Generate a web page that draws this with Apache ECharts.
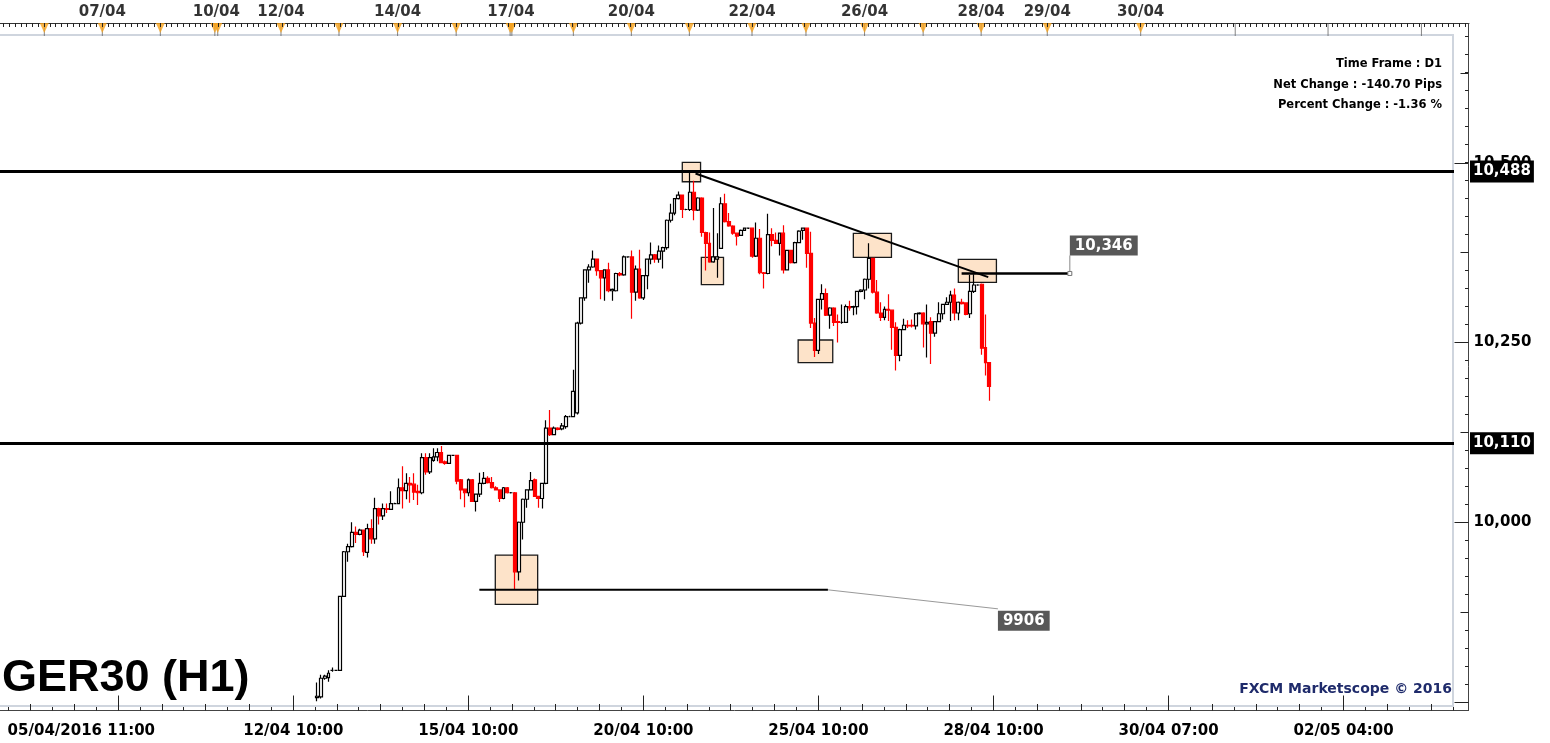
<!DOCTYPE html>
<html><head><meta charset="utf-8">
<script src="https://cdn.jsdelivr.net/npm/echarts@6/dist/echarts.min.js"></script>
<style>html,body{margin:0;padding:0;background:#fff}#c{width:1550px;height:743px}</style>
</head><body><div id="c"></div>
<script>
// ---------- data ----------
const slotCount = 374;      // hourly slots on the time axis
const firstSlot = 81;       // slot of the first drawn candle
// [open, close, low, high]
const candles = [
[9756,9758,9751,9777],[9757,9783,9755,9788],[9783,9786,9781,9788],[9784,9790,9778,9794],[9794,9794,9792,9798],
[9794,9794,9793,9795],[9794,9897,9793,9897],[9897,9959,9896,9960],[9959,9966,9945,9970],[9966,9986,9965,10000],
[9986,9983,9971,9994],[9983,9989,9982,9991],[9989,9959,9953,9990],[9958,9991,9951,9998],[9991,9977,9970,10004],
[9977,10019,9970,10034],[10019,10009,9997,10020],[10009,10019,10003,10026],[10019,10018,10013,10026],[10018,10026,10017,10043],
[10026,10026,10025,10027],[10026,10048,10025,10061],[10048,10044,10019,10078],[10044,10054,10032,10068],[10054,10052,10027,10063],
[10053,10042,10031,10068],[10043,10041,10024,10052],[10041,10090,10039,10096],[10090,10070,10066,10096],[10070,10090,10067,10096],
[10086,10091,10084,10103],[10091,10097,10085,10103],[10097,10083,10082,10106],[10084,10082,10080,10086],[10082,10093,10081,10094],
[10093,10093,10092,10094],[10093,10057,10053,10094],[10059,10045,10032,10060],[10046,10041,10021,10047],[10041,10059,10036,10061],
[10059,10029,10028,10060],[10029,10039,10015,10040],[10039,10054,10035,10069],[10054,10061,10053,10070],[10061,10055,10054,10064],
[10055,10048,10047,10063],[10048,10045,10044,10050],[10045,10033,10028,10046],[10033,10048,10032,10049],[10048,10041,10040,10049],
[10041,10041,10040,10042],[10041,9931,9907,10042],[9931,10000,9919,10001],[10000,10032,9976,10033],[10032,10045,10020,10046],
[10045,10058,10044,10070],[10059,10036,10035,10061],[10036,10033,10020,10037],[10033,10054,10019,10055],[10054,10131,10053,10142],
[10131,10122,10120,10156],[10122,10131,10121,10133],[10131,10129,10128,10132],[10130,10134,10128,10138],[10133,10147,10130,10149],
[10147,10147,10146,10148],[10147,10182,10146,10212],[10152,10277,10150,10279],[10277,10312,10275,10313],[10312,10351,10308,10352],
[10351,10355,10333,10359],[10355,10366,10354,10378],[10366,10350,10343,10367],[10350,10340,10310,10351],[10340,10351,10308,10352],
[10351,10322,10320,10361],[10322,10324,10308,10325],[10322,10346,10321,10347],[10346,10344,10342,10348],[10344,10369,10343,10371],
[10369,10369,10368,10370],[10369,10320,10283,10378],[10320,10352,10308,10357],[10352,10312,10311,10379],[10312,10343,10309,10344],
[10343,10366,10324,10367],[10366,10372,10359,10389],[10372,10366,10361,10373],[10366,10377,10361,10385],[10377,10382,10353,10383],
[10382,10420,10379,10421],[10420,10430,10417,10443],[10430,10450,10427,10451],[10450,10455,10449,10460],[10455,10435,10423,10456],
[10435,10435,10434,10436],[10435,10459,10433,10487],[10459,10434,10420,10475],[10434,10451,10433,10452],[10451,10403,10397,10452],
[10403,10388,10350,10404],[10388,10362,10361,10403],[10362,10369,10361,10437],[10366,10369,10340,10402],[10381,10443,10380,10452],
[10443,10418,10417,10457],[10418,10412,10411,10430],[10412,10402,10400,10413],[10402,10398,10385,10403],[10399,10406,10398,10407],
[10406,10409,10405,10410],[10409,10409,10408,10410],[10409,10370,10368,10410],[10370,10395,10369,10417],[10395,10347,10345,10408],
[10347,10346,10325,10348],[10346,10400,10345,10429],[10400,10392,10384,10409],[10392,10388,10387,10403],[10388,10402,10371,10403],
[10402,10351,10346,10413],[10351,10378,10350,10379],[10378,10361,10360,10379],[10361,10389,10360,10390],[10389,10405,10388,10406],
[10406,10409,10393,10410],[10409,10374,10354,10410],[10374,10277,10270,10404],[10277,10239,10230,10284],[10239,10310,10234,10311],
[10310,10318,10296,10331],[10318,10288,10287,10325],[10288,10298,10269,10299],[10298,10278,10273,10299],[10279,10278,10250,10289],
[10278,10278,10276,10303],[10278,10300,10277,10303],[10300,10298,10294,10308],[10299,10300,10288,10301],[10300,10321,10289,10322],
[10321,10323,10320,10324],[10323,10338,10310,10339],[10338,10367,10325,10388],[10367,10320,10318,10368],[10320,10291,10290,10337],
[10291,10285,10280,10306],[10285,10296,10281,10300],[10296,10295,10280,10317],[10295,10271,10240,10296],[10271,10232,10211,10278],
[10232,10268,10224,10269],[10268,10274,10267,10283],[10274,10273,10270,10281],[10274,10273,10271,10282],[10273,10290,10268,10291],
[10290,10291,10289,10292],[10291,10276,10243,10292],[10276,10278,10229,10303],[10279,10263,10220,10285],[10263,10279,10258,10280],
[10279,10290,10278,10306],[10290,10303,10282,10304],[10303,10306,10302,10313],[10306,10316,10280,10322],[10316,10291,10281,10325],
[10291,10306,10281,10307],[10306,10304,10303,10311],[10305,10289,10288,10306],[10290,10321,10284,10344],[10321,10330,10319,10345],
[10330,10330,10329,10331],[10331,10242,10233,10332],[10243,10222,10204,10289],[10222,10189,10169,10223]
];
const levelLines = [10488, 10110];
const lastPrice = 10189;
// annotations, x in slot units
const trendLine = [[178.4, 10485], [253.7, 10341]];
const markedLevels = [10346, 9906];
const markedSpans = [[246.85, 275.2], [122.8, 212.46]];
const markedTags = ['10,346', '9906'];
const boxes = [
  [175.0, 179.7, 10500.6, 10473.6],
  [179.9, 185.6, 10368.5, 10330.4],
  [219.0, 228.8, 10401.9, 10368.5],
  [246.0, 255.8, 10365.7, 10333.7],
  [204.8, 213.7, 10253.5, 10221.9],
  [126.9, 137.8, 9954.4, 9885.9]
];
const bottomLabels = ['05/04/2016 11:00','12/04 10:00','15/04 10:00','20/04 10:00','25/04 10:00','28/04 10:00','30/04 07:00','02/05 04:00'];
const topLabels = ['07/04','10/04','12/04','14/04','17/04','20/04','22/04','26/04','28/04','29/04','30/04'];
const topLabelPos = [18.0, 37.65, 48.8, 68.9, 88.45, 109.2, 130.0, 149.4, 169.5, 180.9, 197.0];
const topMarkPos = [8.0, 18.0, 28.0, 37.4, 37.9, 48.8, 58.8, 68.9, 79.0, 88.3, 88.6, 99.2, 109.2, 119.2, 130.0, 139.3, 149.4, 159.5, 169.5, 180.9, 197.0];
const topLongTickPos = [213.3, 229.3, 245.4];
const infoLines = ['Time Frame : D1', 'Net Change : -140.70 Pips', 'Percent Change : -1.36 %'];
const chartTitle = 'GER30 (H1)';
const credit = 'FXCM Marketscope \u00a9 2016';

// ---------- chart ----------
const FONT = '"DejaVu Sans", Verdana, sans-serif';
const fmt = v => String(Math.round(v)).replace(/\B(?=(\d{3})+(?!\d))/g, ',');
const seq = n => Array.from({length: n}, (_, i) => i);
const slots = seq(slotCount).map(String);
const chart = echarts.init(document.getElementById('c'), null, {renderer: 'canvas'});

const G = (o) => Object.assign({outerBoundsMode: 'none', containLabel: false}, o);
const hiddenX = (g, min, max) => ({type: 'value', gridIndex: g, min: min || 0, max: max == null ? 1 : max, show: false, axisLine: {onZero: false}});
const hiddenY = (g, min, max) => ({type: 'value', gridIndex: g, min: min || 0, max: max == null ? 1 : max, show: false, axisLine: {onZero: false}});
const TICK = {color: '#222', width: 1};
const tickOnlyY = (g, max, interval, len) => ({
  type: 'value', gridIndex: g, min: 9750, max: max, interval: interval, position: 'right',
  axisLine: {show: false, onZero: false}, splitLine: {show: false}, axisLabel: {show: false},
  axisTick: {show: true, inside: true, length: len, lineStyle: TICK}
});
const tagLabel = (bg, fg) => ({
  show: true, position: 'end', distance: 16, formatter: p => fmt(p.value),
  backgroundColor: bg, color: fg, fontFamily: FONT, fontWeight: 'bold', fontSize: 15,
  padding: [4, 3, 3, 3]
});
const crisp = v => Math.round(v - 0.5) + 0.5;

const option = {
  animation: false,
  backgroundColor: '#fff',
  textStyle: {fontFamily: FONT},
  grid: [
    G({left: 0, top: 36.925, width: 1454, height: 665.075}),     // 0 main plot
    G({left: -12.98, top: 700, width: 1466, height: 10.5}),       // 1 bottom ruler, small ticks
    G({left: 118.3, top: 700, width: 1225.3, height: 10.5}),      // 2 bottom ruler, major ticks + labels
    G({left: -2.1, top: 23, width: 1471.1, height: 12}),          // 3 top ruler
    G({left: 0, top: 162.75, width: 1468.5, height: 539.25}),     // 4 price axis 250 step
    G({left: 0, top: 72.875, width: 1468.5, height: 629.125}),    // 5 price axis 125 step
    G({left: 0, top: 36.925, width: 1468.5, height: 665.075})     // 6 price axis 25 step
  ],
  xAxis: [
    {type: 'category', gridIndex: 0, data: slots, boundaryGap: true, show: false, axisLine: {onZero: false}},
    {type: 'value', gridIndex: 0, min: -0.5, max: slotCount - 0.5, show: false, axisLine: {onZero: false}},
    hiddenX(1, 0, 67),
    {type: 'value', gridIndex: 2, min: 0, max: 7, interval: 1, position: 'bottom',
     axisLine: {show: false, onZero: false}, splitLine: {show: false},
     axisTick: {show: true, inside: true, length: 15, lineStyle: TICK},
     axisLabel: {
       show: true, margin: 13, color: '#000', fontFamily: FONT, fontWeight: 'bold', fontSize: 15,
       formatter: v => v === 0 ? '{first|' + bottomLabels[0] + '}' : (bottomLabels[v] || ''),
       rich: {first: {padding: [0, 74, 0, 0], color: '#000', fontFamily: FONT, fontWeight: 'bold', fontSize: 15}}
     }},
    {type: 'value', gridIndex: 3, position: 'top', min: 0, max: 253.6, show: true,
     axisLine: {show: true, onZero: false, lineStyle: {color: '#333', width: 1}}, splitLine: {show: false},
     axisLabel: {show: false}, axisTick: {show: false}},
    hiddenX(4),
    hiddenX(5),
    hiddenX(6)
  ],
  yAxis: [
    {type: 'value', gridIndex: 0, min: 9750, max: 10675, show: false, axisLine: {onZero: false}},
    hiddenY(1), hiddenY(2),
    hiddenY(3),
    Object.assign(tickOnlyY(4, 10500, 250, 14), {
      axisLabel: {show: true, margin: 5, color: '#000', fontFamily: FONT, fontWeight: 'bold', fontSize: 15,
                  formatter: v => v === 9750 ? '' : fmt(v)}
    }),
    tickOnlyY(5, 10625, 125, 8),
    hiddenY(6, 9750, 10675)
  ],
  series: [
    {
      name: 'boxes', type: 'custom', xAxisIndex: 1, yAxisIndex: 0, z: 1,
      data: boxes,
      renderItem: (params, api) => {
        const p1 = api.coord([api.value(0), api.value(2)]);
        const p2 = api.coord([api.value(1), api.value(3)]);
        return {type: 'rect', shape: {x: p1[0], y: p1[1], width: p2[0] - p1[0], height: p2[1] - p1[1]},
                style: {fill: '#FDE3C9', stroke: '#1a1a1a', lineWidth: 1.3}};
      }
    },
    {
      name: 'GER30', type: 'candlestick', xAxisIndex: 0, yAxisIndex: 0, z: 2,
      barWidth: 3.4,
      data: candles.map((c, i) => [firstSlot + i, c[0], c[1], c[2], c[3]]),
      encode: {x: 0, y: [1, 2, 3, 4]},
      itemStyle: {color: '#ffffff', color0: '#ff0000', borderColor: '#000000', borderColor0: '#ff0000', borderWidth: 1.2},
      markLine: {
        silent: true, symbol: ['none', 'none'], animation: false,
        data: [
          {yAxis: levelLines[0], lineStyle: {color: '#000', width: 3, type: 'solid'}, label: tagLabel('#000', '#fff')},
          {yAxis: levelLines[1], lineStyle: {color: '#000', width: 3, type: 'solid'}, label: tagLabel('#000', '#fff')},
          {yAxis: lastPrice, lineStyle: {opacity: 0, width: 0}, label: tagLabel('#5EC6F6', '#000')}
        ]
      }
    },
    {
      name: 'trend', type: 'custom', xAxisIndex: 1, yAxisIndex: 0, z: 3,
      data: [[trendLine[0][0], trendLine[0][1], trendLine[1][0], trendLine[1][1]]],
      renderItem: (params, api) => {
        const a = api.coord([api.value(0), api.value(1)]);
        const b = api.coord([api.value(2), api.value(3)]);
        return {type: 'line', shape: {x1: a[0], y1: a[1], x2: b[0], y2: b[1]}, style: {stroke: '#000', lineWidth: 2}};
      }
    },
    {
      name: 'levels', type: 'custom', xAxisIndex: 1, yAxisIndex: 0, z: 4,
      data: markedLevels.map((lv, i) => [markedSpans[i][0], markedSpans[i][1], lv, i]),
      renderItem: (params, api) => {
        const i = api.value(3);
        const a = api.coord([api.value(0), api.value(2)]);
        const b = api.coord([api.value(1), api.value(2)]);
        const children = [
          {type: 'line', shape: {x1: a[0], y1: a[1], x2: b[0], y2: b[1]}, style: {stroke: '#000', lineWidth: i === 0 ? 2.5 : 2}}
        ];
        const tagStyle = {text: markedTags[i], fill: '#fff', font: 'bold 15px ' + FONT,
                          backgroundColor: '#585858', padding: [3, 5, 2, 5]};
        if (i === 0) {
          children.push({type: 'line', shape: {x1: b[0] - 2, y1: b[1], x2: b[0] - 2, y2: b[1] - 18}, style: {stroke: '#888', lineWidth: 1}});
          children.push({type: 'rect', shape: {x: b[0] - 4, y: b[1] - 2, width: 4, height: 4}, style: {fill: '#fff', stroke: '#777', lineWidth: 1}});
          children.push({type: 'text', x: b[0] - 2, y: b[1] - 18, style: Object.assign({align: 'left', verticalAlign: 'bottom'}, tagStyle)});
        } else {
          children.push({type: 'line', shape: {x1: b[0], y1: b[1], x2: b[0] + 170, y2: b[1] + 19}, style: {stroke: '#999', lineWidth: 1}});
          children.push({type: 'text', x: b[0] + 170, y: b[1] + 21, style: Object.assign({align: 'left', verticalAlign: 'top'}, tagStyle)});
        }
        return {type: 'group', children: children};
      }
    },
    {
      name: 'dayTicks', type: 'scatter', xAxisIndex: 4, yAxisIndex: 3, z: 3, silent: true,
      data: topMarkPos.concat(topLongTickPos).map(v => [v, 1]),
      symbol: 'rect', symbolSize: [1, 13], symbolOffset: [0, 6.5],
      itemStyle: {color: '#666'}
    },
    {
      name: 'dayMarks', type: 'scatter', xAxisIndex: 4, yAxisIndex: 3, z: 4, silent: true,
      data: topMarkPos.map(v => [v, 1]),
      symbol: 'triangle', symbolRotate: 180, symbolSize: [9, 10], symbolOffset: [0, 5],
      itemStyle: {color: '#F8A21C'}
    },
    {
      name: 'dayLabels', type: 'scatter', xAxisIndex: 4, yAxisIndex: 3, z: 4, silent: true,
      data: topLabelPos.map((v, i) => ({value: [v, 1], name: topLabels[i]})),
      symbolSize: 0,
      label: {show: true, position: 'top', distance: 3, formatter: p => p.name,
              color: '#000', fontFamily: FONT, fontWeight: 'bold', fontSize: 15}
    }
  ],
  graphic: [
    {type: 'rect', z: 0, silent: true, shape: {x: -2, y: 35, width: 1455, height: 671},
     style: {fill: 'none', stroke: '#CFD5DE', lineWidth: 2}},
    {type: 'line', z: 5, silent: true, shape: {x1: 1468.5, y1: 23, x2: 1468.5, y2: 710.5}, style: {stroke: '#444', lineWidth: 1}},
    {type: 'line', z: 5, silent: true, shape: {x1: 0, y1: 710.5, x2: 1469, y2: 710.5}, style: {stroke: '#444', lineWidth: 1}},
    {type: 'text', z: 10, x: 1442, y: 64, style: {text: infoLines[0], align: 'right', verticalAlign: 'middle', font: 'bold 11.5px ' + FONT, fill: '#000'}},
    {type: 'text', z: 10, x: 1442, y: 85, style: {text: infoLines[1], align: 'right', verticalAlign: 'middle', font: 'bold 11.5px ' + FONT, fill: '#000'}},
    {type: 'text', z: 10, x: 1442, y: 105, style: {text: infoLines[2], align: 'right', verticalAlign: 'middle', font: 'bold 11.5px ' + FONT, fill: '#000'}},
    {type: 'text', z: 10, x: 2, y: 679, style: {text: chartTitle, align: 'left', verticalAlign: 'middle', font: 'bold 45px "Liberation Sans", Arial, sans-serif', fill: '#000'}},
    {type: 'text', z: 10, x: 1452, y: 689, style: {text: credit, align: 'right', verticalAlign: 'middle', font: 'bold 14px ' + FONT, fill: '#1F2B6B'}}
  ]
};
chart.setOption(option);

// dense ruler ticks, placed through the axes' own scales
const tickLines = [];
const addTick = (x1, y1, x2, y2) => tickLines.push({type: 'line', silent: true, z: 20,
  shape: {x1: x1, y1: y1, x2: x2, y2: y2}, style: {stroke: '#222', lineWidth: 1}});
const baseBottom = chart.convertToPixel({yAxisIndex: 1}, 0);
seq(68).forEach(k => {
  const x = crisp(chart.convertToPixel({xAxisIndex: 2}, k));
  addTick(x, baseBottom, x, baseBottom - (k % 2 === 0 ? 6.5 : 3.5));
});
const baseTop = chart.convertToPixel({yAxisIndex: 3}, 1);
seq(254).forEach(k => {
  const x = crisp(chart.convertToPixel({xAxisIndex: 4}, k));
  addTick(x, baseTop, x, baseTop + 4);
});
const baseRight = chart.convertToPixel({xAxisIndex: 7}, 1);
seq(38).forEach(k => {
  const y = crisp(chart.convertToPixel({yAxisIndex: 6}, 9750 + 25 * k));
  addTick(baseRight, y, baseRight - 3.5, y);
});
chart.setOption({graphic: option.graphic.concat([{type: 'group', id: 'rulerTicks', silent: true, children: tickLines}])});
</script>
</body></html>
